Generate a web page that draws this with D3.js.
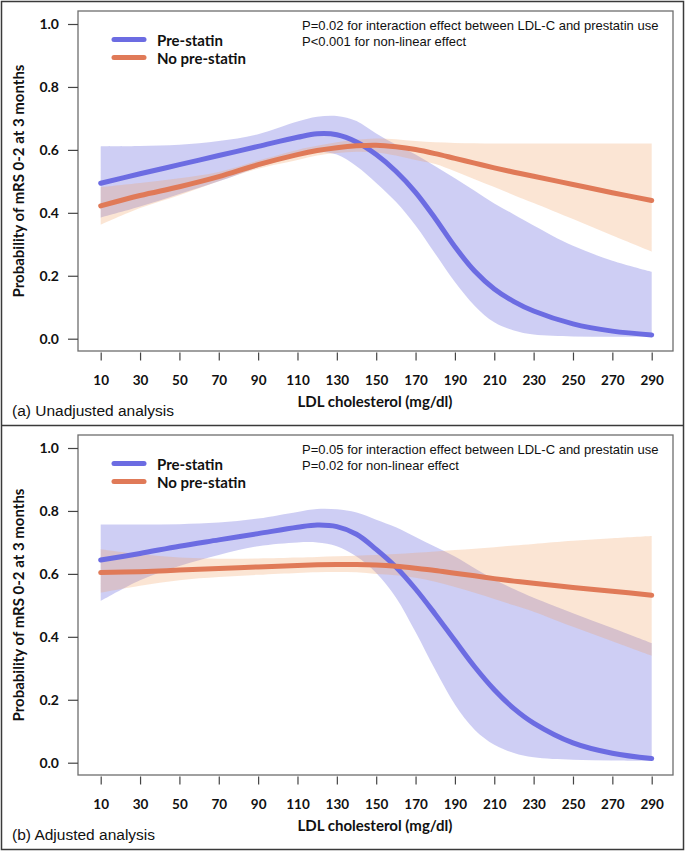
<!DOCTYPE html>
<html>
<head>
<meta charset="utf-8">
<title>LDL cholesterol and mRS 0-2</title>
<script src="https://cdn.jsdelivr.net/npm/d3@7"></script>
<style>
  body { margin: 0; background: #fff; }
</style>
</head>
<body>
<script>

const ldl = [10, 30, 50, 70, 90, 110, 120, 130, 140, 150, 160, 170, 180, 190, 200, 210, 220, 230, 250, 270, 290];
const xTickValues = [10, 30, 50, 70, 90, 110, 130, 150, 170, 190, 210, 230, 250, 270, 290];
const yTickValues = [0, 0.2, 0.4, 0.6, 0.8, 1.0];

const seriesNames = ["Pre-statin", "No pre-statin"];

// (a) unadjusted
const unadjPreFit = [0.494, 0.524, 0.553, 0.582, 0.611, 0.640, 0.651, 0.648, 0.625, 0.585, 0.532, 0.465, 0.382, 0.292, 0.215, 0.158, 0.118, 0.088, 0.047, 0.024, 0.012];
const unadjPreLo  = [0.385, 0.420, 0.460, 0.500, 0.545, 0.580, 0.592, 0.585, 0.548, 0.495, 0.435, 0.360, 0.270, 0.180, 0.105, 0.052, 0.026, 0.013, 0.007, 0.006, 0.006];
const unadjPreHi  = [0.611, 0.612, 0.616, 0.628, 0.650, 0.690, 0.705, 0.708, 0.692, 0.652, 0.617, 0.585, 0.548, 0.510, 0.470, 0.430, 0.395, 0.360, 0.295, 0.248, 0.213];
const unadjNoFit  = [0.422, 0.455, 0.483, 0.515, 0.553, 0.585, 0.598, 0.607, 0.613, 0.615, 0.610, 0.601, 0.588, 0.573, 0.558, 0.543, 0.529, 0.516, 0.490, 0.464, 0.439];
const unadjNoLo   = [0.362, 0.415, 0.456, 0.500, 0.540, 0.568, 0.582, 0.590, 0.594, 0.592, 0.582, 0.568, 0.555, 0.532, 0.507, 0.482, 0.456, 0.431, 0.380, 0.328, 0.277];
const unadjNoHi   = [0.482, 0.495, 0.510, 0.530, 0.566, 0.600, 0.613, 0.624, 0.632, 0.636, 0.634, 0.628, 0.624, 0.622, 0.621, 0.620, 0.620, 0.620, 0.620, 0.620, 0.620];

// (b) adjusted
const adjPreFit = [0.644, 0.665, 0.688, 0.708, 0.728, 0.748, 0.755, 0.750, 0.726, 0.678, 0.622, 0.552, 0.472, 0.388, 0.305, 0.232, 0.172, 0.126, 0.063, 0.030, 0.013];
const adjPreLo  = [0.514, 0.580, 0.625, 0.660, 0.688, 0.700, 0.700, 0.688, 0.655, 0.603, 0.525, 0.415, 0.295, 0.185, 0.105, 0.057, 0.031, 0.017, 0.009, 0.007, 0.006];
const adjPreHi  = [0.757, 0.757, 0.758, 0.763, 0.776, 0.797, 0.806, 0.805, 0.795, 0.772, 0.748, 0.717, 0.686, 0.655, 0.618, 0.582, 0.552, 0.524, 0.475, 0.428, 0.380];
const adjNoFit  = [0.604, 0.607, 0.612, 0.617, 0.622, 0.627, 0.629, 0.630, 0.630, 0.628, 0.624, 0.618, 0.611, 0.602, 0.594, 0.585, 0.577, 0.570, 0.557, 0.545, 0.532];
const adjNoLo   = [0.540, 0.562, 0.580, 0.590, 0.597, 0.603, 0.605, 0.606, 0.605, 0.600, 0.596, 0.588, 0.575, 0.558, 0.540, 0.520, 0.500, 0.480, 0.432, 0.386, 0.340];
const adjNoHi   = [0.678, 0.662, 0.652, 0.648, 0.649, 0.652, 0.654, 0.656, 0.658, 0.660, 0.663, 0.667, 0.671, 0.676, 0.680, 0.685, 0.690, 0.695, 0.705, 0.713, 0.720];

const panels = [
  { top: 0, caption: "(a) Unadjusted analysis",
    notes: ["P=0.02 for interaction effect between LDL-C and prestatin use", "P<0.001 for non-linear effect"],
    pre: [unadjPreFit, unadjPreLo, unadjPreHi], no: [unadjNoFit, unadjNoLo, unadjNoHi] },
  { top: 424, caption: "(b) Adjusted analysis",
    notes: ["P=0.05 for interaction effect between LDL-C and prestatin use", "P=0.02 for non-linear effect"],
    pre: [adjPreFit, adjPreLo, adjPreHi], no: [adjNoFit, adjNoLo, adjNoHi] }
];

const blueLine = "#6c6ce2", blueBand = "#7474e0";
const orangeLine = "#e07a58", orangeBand = "#f0a060";
const boldFont = "Lato, 'Open Sans', sans-serif";
const plainFont = "'Liberation Sans', Arial, sans-serif";
const smooth = d3.curveCatmullRom.alpha(0.5);

const svg = d3.select("body").append("svg")
    .attr("width", 685)
    .attr("height", 855);

// outer frame and divider
svg.append("rect")
    .attr("x", 1.5).attr("y", 1.5)
    .attr("width", 682).attr("height", 848)
    .attr("fill", "none").attr("stroke", "#3a3a3a").attr("stroke-width", 1.5);
svg.append("line")
    .attr("x1", 1.5).attr("x2", 683.5).attr("y1", 425.5).attr("y2", 425.5)
    .attr("stroke", "#3a3a3a").attr("stroke-width", 1.5);

const x = d3.scaleLinear().domain([10, 290]).range([100.7, 651.7]);

panels.forEach(function (p) {
  const g = svg.append("g").attr("transform", "translate(0," + p.top + ")");
  const y = d3.scaleLinear().domain([0, 1]).range([338.7, 24]);

  const area = function (lo, hi) {
    return d3.area()
      .x(function (d, i) { return x(ldl[i]); })
      .y0(function (d, i) { return y(lo[i]); })
      .y1(function (d, i) { return y(hi[i]); })
      .curve(smooth)(ldl);
  };
  const line = function (fit) {
    return d3.line()
      .x(function (d, i) { return x(ldl[i]); })
      .y(function (d, i) { return y(fit[i]); })
      .curve(smooth)(ldl);
  };

  // confidence bands
  g.append("path").attr("d", area(p.pre[1], p.pre[2]))
      .attr("fill", blueBand).attr("fill-opacity", 0.35);
  g.append("path").attr("d", area(p.no[1], p.no[2]))
      .attr("fill", orangeBand).attr("fill-opacity", 0.27);

  // fitted curves
  g.append("path").attr("d", line(p.pre[0]))
      .attr("fill", "none").attr("stroke", blueLine).attr("stroke-width", 5)
      .attr("stroke-linecap", "round").attr("stroke-linejoin", "round");
  g.append("path").attr("d", line(p.no[0]))
      .attr("fill", "none").attr("stroke", orangeLine).attr("stroke-width", 5)
      .attr("stroke-linecap", "round").attr("stroke-linejoin", "round");

  // plot box
  g.append("rect")
      .attr("x", 78).attr("y", 11).attr("width", 595).attr("height", 340)
      .attr("fill", "none").attr("stroke", "#6e6e6e").attr("stroke-width", 1.3);

  // y axis
  const yAxis = g.append("g")
      .attr("transform", "translate(78,0)")
      .call(d3.axisLeft(y).tickValues(yTickValues).tickSize(10).tickPadding(9)
            .tickFormat(d3.format(".1f")));
  yAxis.select(".domain").remove();
  yAxis.selectAll("line").attr("stroke", "#444").attr("stroke-width", 1.2);
  yAxis.selectAll("text")
      .attr("font-family", boldFont).attr("font-weight", "bold")
      .attr("font-size", "14px").attr("fill", "#111");

  // x axis (ticks sit just under the box)
  const xAxis = g.append("g")
      .attr("transform", "translate(0,352.5)")
      .call(d3.axisBottom(x).tickValues(xTickValues).tickSize(8).tickFormat(d3.format("d")));
  xAxis.select(".domain").remove();
  xAxis.selectAll("line").attr("stroke", "#444").attr("stroke-width", 1.2);
  xAxis.selectAll("text")
      .attr("y", 32.5).attr("dy", null)
      .attr("font-family", boldFont).attr("font-weight", "bold")
      .attr("font-size", "13.5px").attr("fill", "#111");

  // axis titles
  g.append("text")
      .attr("x", 375).attr("y", 407)
      .attr("text-anchor", "middle")
      .attr("font-family", boldFont).attr("font-weight", "bold")
      .attr("font-size", "15px").attr("fill", "#111")
      .text("LDL cholesterol (mg/dl)");
  g.append("text")
      .attr("transform", "translate(24,181) rotate(-90)")
      .attr("text-anchor", "middle")
      .attr("font-family", boldFont).attr("font-weight", "bold")
      .attr("font-size", "15px").attr("fill", "#111")
      .text("Probability of mRS 0-2 at 3 months");

  // legend
  const legendY = [39.5, 57.5];
  const legendCol = [blueLine, orangeLine];
  seriesNames.forEach(function (name, i) {
    g.append("line")
        .attr("x1", 114).attr("x2", 144).attr("y1", legendY[i]).attr("y2", legendY[i])
        .attr("stroke", legendCol[i]).attr("stroke-width", 5).attr("stroke-linecap", "round");
    g.append("text")
        .attr("x", 157).attr("y", legendY[i] + 6)
        .attr("font-family", boldFont).attr("font-weight", "bold")
        .attr("font-size", "15px").attr("fill", "#111")
        .text(name);
  });

  // p-value notes
  p.notes.forEach(function (t, i) {
    g.append("text")
        .attr("x", 302).attr("y", 30 + i * 16)
        .attr("font-family", plainFont).attr("font-size", "13px").attr("fill", "#111")
        .text(t);
  });

  // panel caption
  g.append("text")
      .attr("x", 12).attr("y", 416)
      .attr("font-family", plainFont).attr("font-size", "15.5px").attr("fill", "#111")
      .text(p.caption);
});

</script>
</body>
</html>
